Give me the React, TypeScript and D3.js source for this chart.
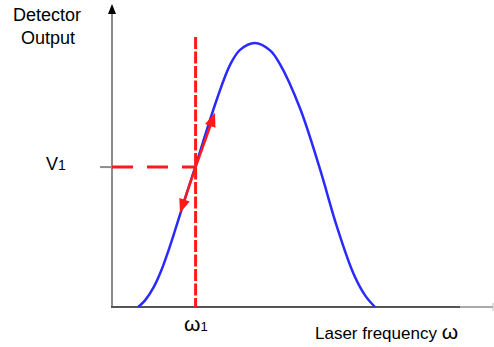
import React from "react";
import * as d3 from "d3";

// Detector response curve (laser frequency vs detector output)
const frequency = [0.69, 0.87, 1.09, 1.31, 1.48, 1.61, 1.75, 1.97, 2.2, 2.76, 3.11, 3.37, 3.76, 4.16, 4.42, 4.95, 5.47, 5.91, 6.35, 6.66, 6.92];
const output = [0, 0.025, 0.073, 0.143, 0.211, 0.268, 0.332, 0.432, 0.535, 0.787, 0.918, 0.974, 1.0, 0.972, 0.92, 0.752, 0.524, 0.308, 0.128, 0.044, 0];

// operating point
const omega1 = 2.2;
const v1 = 0.53;
// modulation arrow tips (frequency, output)
const arrowUp = [2.71, 0.736];
const arrowDown = [1.79, 0.356];

const yAxisLabel = ["Detector", "Output"];
const xAxisLabel = "Laser frequency ";

const W = 494;
const H = 347;

export default function App() {
  const x = d3.scaleLinear().domain([0, 10]).range([112, 492]);
  const y = d3.scaleLinear().domain([0, 1]).range([307, 43]);
  const pts = frequency.map((f, i) => [f, output[i]] as [number, number]);
  const line = d3
    .line<[number, number]>()
    .x((d) => x(d[0]))
    .y((d) => y(d[1]))
    .curve(d3.curveCatmullRom.alpha(0.5));

  const ox = x(omega1);
  const oy = y(v1);
  const font = "'Liberation Sans', Arial, sans-serif";
  const red = "#ff1a1a";

  const arrow = (tx: number, ty: number) => {
    const ang = Math.atan2(ty - oy, tx - ox);
    const len = 14;
    const hw = 5.5;
    const bx = tx - len * Math.cos(ang);
    const by = ty - len * Math.sin(ang);
    const px = -Math.sin(ang) * hw;
    const py = Math.cos(ang) * hw;
    return (
      <g>
        <line x1={ox} y1={oy} x2={bx + 2 * Math.cos(ang)} y2={by + 2 * Math.sin(ang)} stroke={red} strokeWidth={2.5} />
        <path d={`M${tx},${ty}L${bx + px},${by + py}L${bx - px},${by - py}Z`} fill={red} />
      </g>
    );
  };

  return (
    <svg
      width={W}
      height={H}
      style={{ position: "absolute", left: 0, top: 0, background: "#fff" }}
    >
      {/* axes */}
      <line x1={x(0)} y1={y(0)} x2={x(0)} y2={12} stroke="#8c8c8c" strokeWidth={2} />
      <path d={`M${x(0)},4L${x(0) - 4},14L${x(0) + 4},14Z`} fill="#000" />
      <line x1={x(0) - 1} y1={y(0)} x2={460} y2={y(0)} stroke="#555" strokeWidth={2} />
      <line x1={460} y1={y(0)} x2={493} y2={y(0)} stroke="#aaa" strokeWidth={2} />
      <line x1={493} y1={y(0) - 4} x2={493} y2={y(0) + 4} stroke="#bbb" strokeWidth={1} />
      {/* V1 tick */}
      <line x1={100} y1={oy} x2={x(0)} y2={oy} stroke="#8c8c8c" strokeWidth={2} />

      {/* response curve */}
      <path d={line(pts) || ""} fill="none" stroke="#2a2aff" strokeWidth={2.5} />

      {/* operating point dashed lines */}
      <line x1={ox} y1={37} x2={ox} y2={y(0)} stroke={red} strokeWidth={3} strokeDasharray="12,2.5" />
      <line x1={x(0)} y1={oy} x2={ox} y2={oy} stroke={red} strokeWidth={3} strokeDasharray="21,14" />

      {/* modulation arrows */}
      {arrow(x(arrowUp[0]), y(arrowUp[1]))}
      {arrow(x(arrowDown[0]), y(arrowDown[1]))}

      {/* labels */}
      <text x={47} y={20.5} fontFamily={font} fontSize={18} textAnchor="middle" fill="#000">
        {yAxisLabel[0]}
      </text>
      <text x={48} y={43.5} fontFamily={font} fontSize={18} textAnchor="middle" fill="#000">
        {yAxisLabel[1]}
      </text>
      <text x={46} y={170} fontFamily={font} fontSize={18} fill="#000">
        V<tspan fontSize={14}>1</tspan>
      </text>
      <text x={184} y={330.5} fontFamily={font} fontSize={21} fill="#000">
        ω<tspan fontSize={13}>1</tspan>
      </text>
      <text x={315} y={339} fontFamily={font} fontSize={17} fill="#000">
        {xAxisLabel}
        <tspan fontSize={21}>ω</tspan>
      </text>
    </svg>
  );
}
